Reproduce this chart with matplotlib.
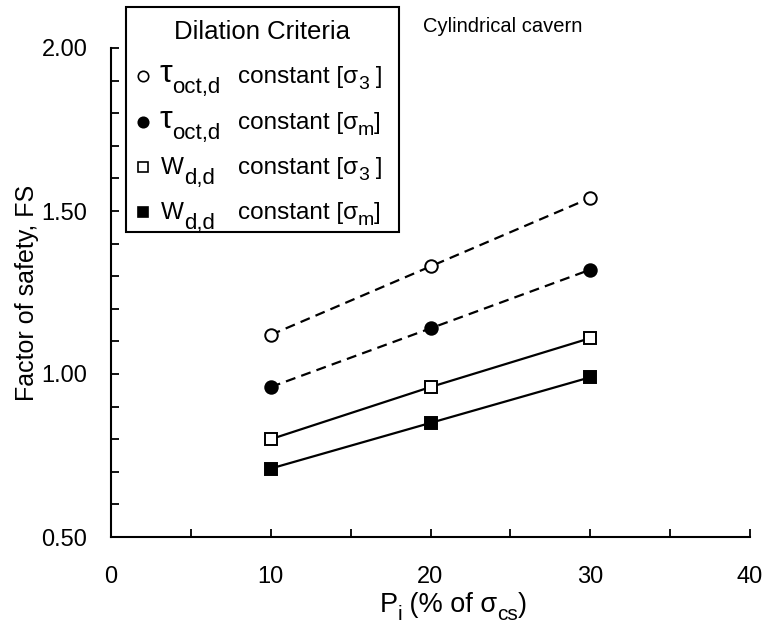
import matplotlib
matplotlib.use("Agg")
import matplotlib.pyplot as plt
from matplotlib.lines import Line2D
from matplotlib.patches import Rectangle

plt.rcParams['font.family'] = ['Liberation Sans', 'DejaVu Sans']

# Internal pressure (% of uniaxial compressive strength)
pressure = [10, 20, 30]

# Factor of safety for each dilation criterion
fs_tau_s3 = [1.12, 1.33, 1.54]
fs_tau_sm = [0.96, 1.14, 1.32]
fs_w_s3 = [0.80, 0.96, 1.11]
fs_w_sm = [0.71, 0.85, 0.99]

# Legend entries: (symbol, symbol subscript, stress subscript, trailing space)
legend_entries = [
    ('τ', 'oct,d', '3', ' '),
    ('τ', 'oct,d', 'm', ''),
    ('W', 'd,d', '3', ' '),
    ('W', 'd,d', 'm', ''),
]

W, H = 764, 628
fig = plt.figure(figsize=(W / 100, H / 100), dpi=100)
renderer = fig.canvas.get_renderer()
ax = fig.add_axes([111 / W, 1 - 537 / H, 639 / W, 489 / H])

series = [
    (fs_tau_s3, 'o', 'white', (0, (4.5, 2.8)), 9.0),
    (fs_tau_sm, 'o', 'black', (0, (4.5, 2.8)), 9.0),
    (fs_w_s3, 's', 'white', '-', 9.0),
    (fs_w_sm, 's', 'black', '-', 9.0),
]
for vals, mk, fc, ls, ms in series:
    ax.plot(pressure, vals, linestyle=ls, color='black', linewidth=1.6,
            marker=mk, markersize=ms, markerfacecolor=fc,
            markeredgecolor='black', markeredgewidth=1.4, zorder=3)

ax.set_xlim(0, 40)
ax.set_ylim(0.5, 2.0)
ax.set_xticks([0, 10, 20, 30, 40])
ax.set_xticks([5, 15, 25, 35], minor=True)
ax.set_yticks([0.5, 1.0, 1.5, 2.0])
ax.set_yticks([0.6, 0.7, 0.8, 0.9, 1.1, 1.2, 1.3, 1.4, 1.6, 1.7, 1.8, 1.9], minor=True)
ax.set_yticklabels(['0.50', '1.00', '1.50', '2.00'])
ax.tick_params(which='both', direction='in', width=1.3, labelsize=17, colors='black')
ax.tick_params(which='both', length=6)
ax.tick_params(axis='y', pad=17)
ax.tick_params(axis='x', pad=21)

for side in ('top', 'right'):
    ax.spines[side].set_visible(False)
for side in ('left', 'bottom'):
    ax.spines[side].set_linewidth(1.5)

ax.set_ylabel('Factor of safety, FS', fontsize=18, labelpad=2)


def place_runs(x_px, base_px, runs, z=3):
    """Draw consecutive text runs (text, size, baseline shift) left to right."""
    x = x_px
    for s, size, dy in runs:
        t = fig.text(x / W, 1 - (base_px + dy) / H, s, fontsize=size,
                     ha='left', va='baseline', zorder=z)
        x += t.get_window_extent(renderer).width
    return x


def runs_width(runs):
    total = 0
    for s, size, _ in runs:
        t = fig.text(0, 0, s, fontsize=size)
        total += t.get_window_extent(renderer).width
        t.remove()
    return total


# x-axis label with subscripts
xlabel_runs = [('P', 19.5, 0), ('i', 15, 8), (' (% of σ', 19.5, 0), ('cs', 15, 8), (')', 19.5, 0)]
place_runs(453 - runs_width(xlabel_runs) / 2, 612, xlabel_runs)

fig.text(503 / W, 1 - 26 / H, 'Cylindrical cavern', fontsize=14.5, ha='center', va='center')

# Legend box
fig.patches.append(Rectangle((126 / W, 1 - 232 / H), 273 / W, 225 / H,
                             transform=fig.transFigure, facecolor='white',
                             edgecolor='black', linewidth=1.5, zorder=5))
fig.text(262 / W, 1 - 32 / H, 'Dilation Criteria', fontsize=18.5,
         ha='center', va='center', zorder=6)

row_y = [76, 122, 167, 212]
for (vals, mk, fc, ls, ms), (sym, sub, ssub, trail), y in zip(series, legend_entries, row_y):
    fig.lines.append(Line2D([143 / W], [1 - y / H], transform=fig.transFigure,
                            linestyle='none', marker=mk, markersize=7.5,
                            markerfacecolor=fc, markeredgecolor='black',
                            markeredgewidth=1.2, zorder=7))
    if sym == 'τ':
        place_runs(159, y + 6, [(sym, 23, 0), (sub, 16, 11)], z=6)
    else:
        place_runs(161, y + 7, [(sym, 17.5, 0), (sub, 16, 10)], z=6)
    place_runs(238, y + 7, [('constant [σ', 17.5, 0), (ssub, 14, 6), (trail + ']', 17.5, 0)], z=6)

fig.savefig('out.png', dpi=100)
